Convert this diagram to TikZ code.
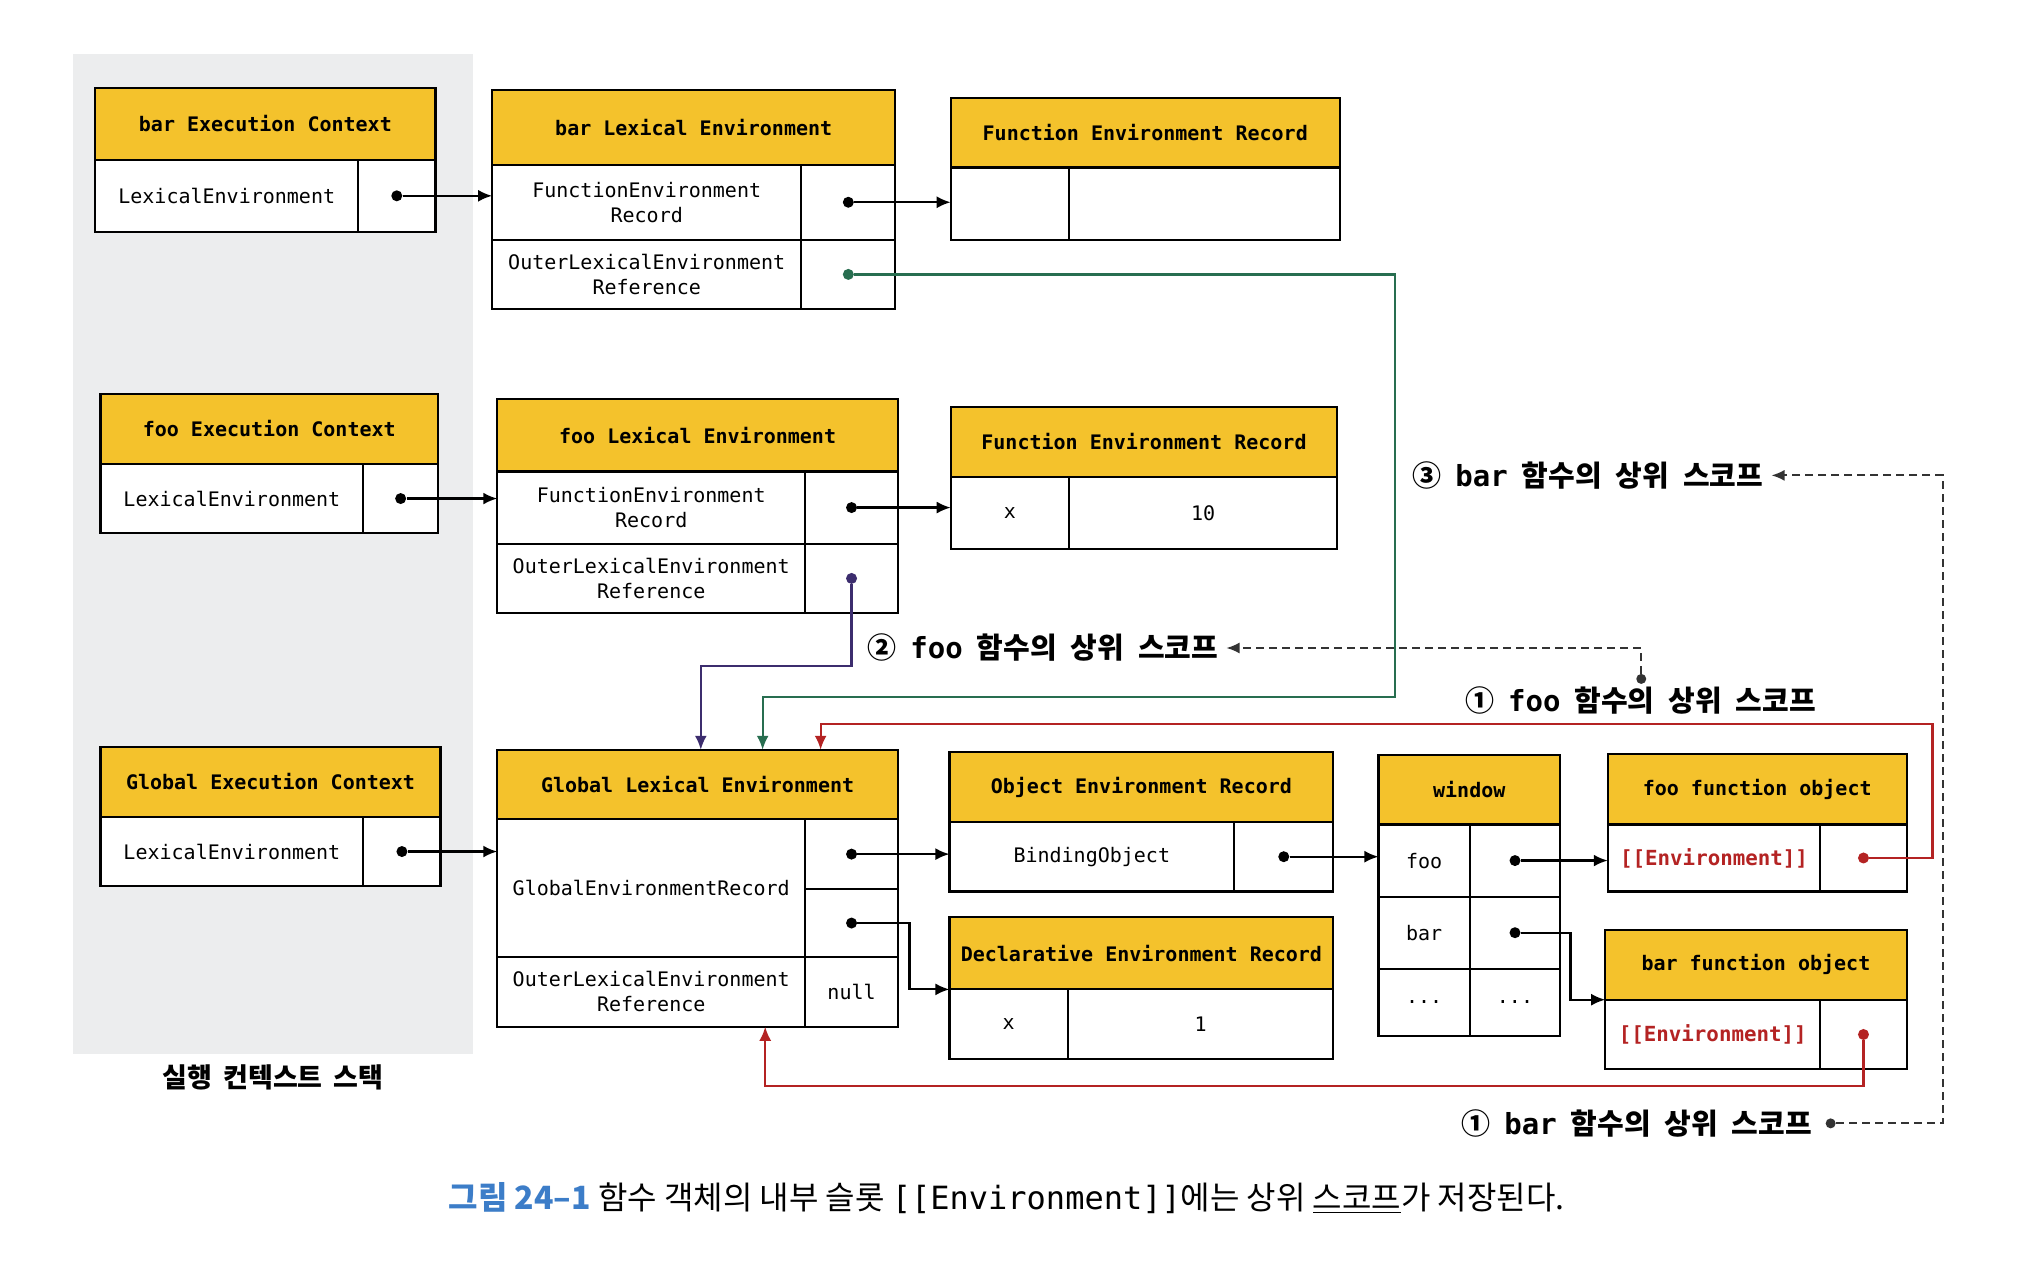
\documentclass[tikz,border=0pt]{standalone}
\usepackage{fontspec}
\setmonofont{DejaVu Sans Mono}
\newfontfamily\cjk{Noto Sans CJK KR}
\usepackage{xcolor}
\usetikzlibrary{arrows.meta,calc}

\definecolor{hdrfill}{RGB}{244,194,44}
\definecolor{panelgray}{RGB}{236,237,238}
\definecolor{linkgreen}{RGB}{40,110,80}
\definecolor{linkpurple}{RGB}{60,45,110}
\definecolor{linkred}{RGB}{180,35,35}
\definecolor{capblue}{RGB}{60,125,200}
\newcommand\px{0.644pt}
\newcommand\wgap{\hspace*{0.48em}}

\begin{document}
\begin{tikzpicture}[x=\px, y=-\px,
  base/.style={draw, line width=1.1pt, anchor=north west, inner sep=0pt, outer sep=0pt,
    align=center, font=\ttfamily\fontsize{10}{12.5}\selectfont},
  hdr/.style={base, fill=hdrfill, font=\ttfamily\bfseries\fontsize{10}{12}\selectfont},
  cell/.style={base, fill=white},
  envcell/.style={cell, text=linkred, font=\ttfamily\bfseries\fontsize{10.4}{12}\selectfont},
  wh/.style 2 args={minimum width=#1*\px, minimum height=#2*\px},
  dot/.style={circle, fill, inner sep=0pt, minimum size=5.5pt},
  link/.style={line width=1.1pt, -{Latex[length=7pt,width=6pt]}},
  dashlink/.style={line width=0.9pt, dash pattern=on 4pt off 2.5pt, black!80,
    -{Latex[length=6.5pt,width=5.5pt]}, shorten >=2pt},
  scope label/.style={font=\cjk\bfseries\fontsize{14.5}{16}\selectfont, inner sep=2pt}
]
\fill[white] (0,0) rectangle (1568,981);
\useasboundingbox (0,0) rectangle (1568,981);
\fill[panelgray] (57,42) rectangle (367,818);

% bar execution context
\node[hdr, wh={264}{56}] (barEC) at (74,68) {bar Execution Context};
\node[cell, wh={204}{56}] (barECle) at (74,124) {LexicalEnvironment};
\node[cell, wh={60}{56}] (barECp) at (278,124) {};

% bar lexical environment
\node[hdr, wh={313}{58}] (barLE) at (382,70) {bar Lexical Environment};
\node[cell, wh={240}{58}] (barLEf) at (382,128) {FunctionEnvironment\\Record};
\node[cell, wh={73}{58}] (barLEfp) at (622,128) {};
\node[cell, wh={240}{54}] (barLEo) at (382,186) {OuterLexicalEnvironment\\Reference};
\node[cell, wh={73}{54}] (barLEop) at (622,186) {};

% bar function environment record
\node[hdr, wh={302}{54}] (barFER) at (738,76) {Function Environment Record};
\node[cell, wh={92}{56}] (barFERk) at (738,130) {};
\node[cell, wh={210}{56}] (barFERv) at (830,130) {};

% foo execution context
\node[hdr, wh={262}{54}] (fooEC) at (78,306) {foo Execution Context};
\node[cell, wh={204}{54}] (fooECle) at (78,360) {LexicalEnvironment};
\node[cell, wh={58}{54}] (fooECp) at (282,360) {};

% foo lexical environment
\node[hdr, wh={311}{56}] (fooLE) at (386,310) {foo Lexical Environment};
\node[cell, wh={239}{56}] (fooLEf) at (386,366) {FunctionEnvironment\\Record};
\node[cell, wh={72}{56}] (fooLEfp) at (625,366) {};
\node[cell, wh={239}{54}] (fooLEo) at (386,422) {OuterLexicalEnvironment\\Reference};
\node[cell, wh={72}{54}] (fooLEop) at (625,422) {};

% foo function environment record
\node[hdr, wh={300}{54}] (fooFER) at (738,316) {Function Environment Record};
\node[cell, wh={92}{56}] (fooFERk) at (738,370) {x};
\node[cell, wh={208}{56}] (fooFERv) at (830,370) {10};

% global execution context
\node[hdr, wh={264}{54}] (globEC) at (78,580) {Global Execution Context};
\node[cell, wh={204}{54}] (globECle) at (78,634) {LexicalEnvironment};
\node[cell, wh={60}{54}] (globECp) at (282,634) {};

% global lexical environment
\node[hdr, wh={311}{54}] (globLE) at (386,582) {Global Lexical Environment};
\node[cell, wh={239}{107}] (globLEg) at (386,636) {GlobalEnvironmentRecord};
\node[cell, wh={72}{54}] (globLEp1) at (625,636) {};
\node[cell, wh={72}{53}] (globLEp2) at (625,690) {};
\node[cell, wh={239}{54}] (globLEo) at (386,743) {OuterLexicalEnvironment\\Reference};
\node[cell, wh={72}{54}] (globLEnull) at (625,743) {null};

% object environment record
\node[hdr, wh={298}{54}] (objER) at (737,584) {Object Environment Record};
\node[cell, wh={221}{54}] (objERb) at (737,638) {BindingObject};
\node[cell, wh={77}{54}] (objERp) at (958,638) {};

% declarative environment record
\node[hdr, wh={298}{56}] (decER) at (737,712) {Declarative Environment Record};
\node[cell, wh={92}{54}] (decERk) at (737,768) {x};
\node[cell, wh={206}{54}] (decERv) at (829,768) {1};

% window
\node[hdr, wh={141}{54}] (win) at (1070,586) {window};
\node[cell, wh={71}{56}] (winFoo) at (1070,640) {foo};
\node[cell, wh={70}{56}] (winFooP) at (1141,640) {};
\node[cell, wh={71}{56}] (winBar) at (1070,696) {bar};
\node[cell, wh={70}{56}] (winBarP) at (1141,696) {};
\node[cell, wh={71}{52}] (winEtc) at (1070,752) {...};
\node[cell, wh={70}{52}] (winEtcP) at (1141,752) {...};

% function objects
\node[hdr, wh={232}{55}] (fooFO) at (1248,585) {foo function object};
\node[envcell, wh={165}{52}] (fooFOe) at (1248,640) {[[Environment]]};
\node[cell, wh={67}{52}] (fooFOp) at (1413,640) {};
\node[hdr, wh={234}{54}] (barFO) at (1246,722) {bar function object};
\node[envcell, wh={167}{54}] (barFOe) at (1246,776) {[[Environment]]};
\node[cell, wh={67}{54}] (barFOp) at (1413,776) {};

% pointer dots
\node[dot] (dBarEC) at (barECp.center) {};
\node[dot] (dBarLEf) at (barLEfp.center) {};
\node[dot, linkgreen] (dBarLEo) at (barLEop.center) {};
\node[dot] (dFooEC) at (fooECp.center) {};
\node[dot] (dFooLEf) at (fooLEfp.center) {};
\node[dot, linkpurple] (dFooLEo) at (fooLEop.center) {};
\node[dot] (dGlobEC) at (globECp.center) {};
\node[dot] (dGlob1) at (globLEp1.center) {};
\node[dot] (dGlob2) at (globLEp2.center) {};
\node[dot] (dObj) at (objERp.center) {};
\node[dot] (dWinFoo) at (winFooP.center) {};
\node[dot] (dWinBar) at (winBarP.center) {};
\node[dot, linkred] (dFooFO) at (fooFOp.center) {};
\node[dot, linkred] (dBarFO) at (barFOp.center) {};

\coordinate (grnBend) at (1083,541);
\coordinate (purBend) at (544,517);
\coordinate (redBend) at (1500,562);
\coordinate (redBend2) at (594,843);

\draw[link] (dBarEC) -- (dBarEC -| barLE.west);
\draw[link] (dBarLEf) -- (dBarLEf -| barFERk.west);
\draw[link, linkgreen] (dBarLEo) -| (grnBend) -| ($(globLE.north west)+(206,0)$);
\draw[link] (dFooEC) -- (dFooEC -| fooLE.west);
\draw[link] (dFooLEf) -- (dFooLEf -| fooFERk.west);
\draw[link, linkpurple] (dFooLEo) |- (purBend) -| ($(globLE.north west)+(158,0)$);
\draw[link] (dGlobEC) -- (dGlobEC -| globLE.west);
\draw[link] (dGlob1) -- (dGlob1 -| objERb.west);
\draw[link] (dGlob2) -- ++(45,0) |- (decERk.north west);
\draw[link] (dObj) -- (dObj -| winFoo.west);
\draw[link] (dWinFoo) -- (dWinFoo -| fooFOe.west);
\draw[link] (dWinBar) -- ++(43,0) |- (barFOe.north west);
\draw[link, linkred] (dFooFO) -| (redBend) -| ($(globLE.north west)+(251,0)$);
\draw[link, linkred] (dBarFO) |- (redBend2) -| ($(globLEo.south west)+(208,0)$);

% scope labels
\node[scope label, anchor=east] (lbl3) at (1372,369) {③\wgap{\ttfamily bar}\wgap 함수의\wgap 상위\wgap 스코프};
\node[scope label, anchor=west] (lbl2) at (670,503) {②\wgap{\ttfamily foo}\wgap 함수의\wgap 상위\wgap 스코프};
\node[scope label, anchor=west] (lbl1f) at (1134,544) {①\wgap{\ttfamily foo}\wgap 함수의\wgap 상위\wgap 스코프};
\node[scope label, anchor=west] (lbl1b) at (1131,872) {①\wgap{\ttfamily bar}\wgap 함수의\wgap 상위\wgap 스코프};
\node[dot, minimum size=5pt, black!80] (dLblF) at (1274,527) {};
\node[dot, minimum size=5pt, black!80] (dLblB) at (1421,872) {};
\coordinate (dashCorner) at (1508,369);
\draw[dashlink] (dLblF) |- (lbl2.east);
\draw[dashlink] (dLblB) -| (dashCorner) -- (lbl3.east);

\node[font=\cjk\bfseries\fontsize{13.5}{15}\selectfont] (stackLbl) at (212,836) {실행\hspace*{0.4em}컨텍스트\hspace*{0.4em}스택};
\node[anchor=west, inner sep=0pt, font=\cjk\fontsize{16}{18}\selectfont] (caption) at (348,930)
  {{\color{capblue}\bfseries 그림 24–1} 함수 객체의 내부 슬롯 {\ttfamily [[Environment]]}에는 상위 \underline{스코프}가 저장된다.};
\end{tikzpicture}
\end{document}
